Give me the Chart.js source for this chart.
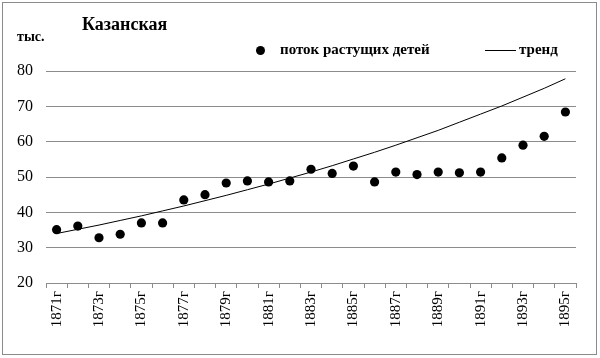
<!DOCTYPE html>
<html>
<head>
<meta charset="utf-8">
<script src="https://cdn.jsdelivr.net/npm/chart.js@4"></script>
<style>
    body { margin: 0; background: #fff; font-family: 'Times New Roman', serif !important; }
    #wrap { position: relative; width: 600px; height: 358px; }
    #frame { position: absolute; left: 2px; top: 2px; width: 593px; height: 351px; border: 1px solid #8a8a8a; pointer-events: none; }
    canvas { position: absolute; left: 0; top: 0; }
    .txt { position: absolute; font-family: 'Times New Roman', serif !important; font-weight: bold; color: #000; white-space: nowrap; line-height: 1; }
    #title { left: 82px; top: 15px; font-size: 18px; }
    #unit { left: 17px; top: 30px; font-size: 14px; }
    #lg1 { left: 280px; top: 42px; font-size: 15px; }
    #lg2 { left: 519px; top: 42px; font-size: 15px; }
    #dot { position: absolute; left: 256px; top: 46px; width: 9px; height: 9px; border-radius: 50%; background: #000; }
    #dash { position: absolute; left: 485px; top: 50px; width: 31px; height: 1px; background: #000; }
</style>
</head>
<body>
<div id="wrap">
    <canvas id="kazanChart" width="600" height="358"></canvas>
    <div class="txt" id="title">Казанская</div>
    <div class="txt" id="unit">тыс.</div>
    <div id="dot"></div>
    <div class="txt" id="lg1">поток растущих детей</div>
    <div id="dash"></div>
    <div class="txt" id="lg2">тренд</div>
    <div id="frame"></div>
</div>
<script>
// Годы наблюдений
const years = ['1871г', '1872г', '1873г', '1874г', '1875г', '1876г', '1877г', '1878г', '1879г',
    '1880г', '1881г', '1882г', '1883г', '1884г', '1885г', '1886г', '1887г', '1888г', '1889г',
    '1890г', '1891г', '1892г', '1893г', '1894г', '1895г'];

// поток растущих детей, тыс.
const childFlow = [35.1, 36.1, 32.8, 33.8, 37.0, 37.0, 43.5, 45.0, 48.3, 48.9, 48.6, 48.9,
    52.2, 51.0, 53.1, 48.6, 51.4, 50.7, 51.4, 51.2, 51.4, 55.4, 59.0, 61.5, 68.4];

// тренд
const trend = [34.0, 35.2, 36.4, 37.7, 39.0, 40.4, 41.8, 43.3, 44.8, 46.4, 48.0, 49.7,
    51.4, 53.2, 55.1, 57.0, 59.0, 61.1, 63.2, 65.5, 67.8, 70.1, 72.6, 75.1, 77.8];

const yTicks = [20, 30, 40, 50, 60, 70, 80];

const fontFamily = "'Times New Roman', serif";
Chart.defaults.font.family = fontFamily;

const kazanCtx = document.getElementById('kazanChart');
if (kazanCtx) {
    new Chart(kazanCtx, {
        type: 'line',
        data: {
            labels: years,
            datasets: [
                {
                    label: 'тренд',
                    data: trend,
                    borderColor: '#000',
                    borderWidth: 1,
                    pointRadius: 0,
                    tension: 0,
                    fill: false
                },
                {
                    label: 'поток растущих детей',
                    data: childFlow,
                    showLine: false,
                    pointRadius: 4.6,
                    pointBorderWidth: 0,
                    pointBackgroundColor: '#000',
                    pointBorderColor: '#000'
                }
            ]
        },
        options: {
            responsive: false,
            animation: false,
            layout: {
                padding: { top: 71, right: 24, left: 0, bottom: 0 }
            },
            plugins: {
                legend: { display: false },
                title: { display: false },
                tooltip: { enabled: false }
            },
            scales: {
                y: {
                    min: 20,
                    max: 80,
                    afterFit: function(scale) { scale.width = 46; },
                    afterBuildTicks: function(scale) {
                        scale.ticks = yTicks.map(v => ({ value: v }));
                    },
                    border: { display: false },
                    grid: {
                        color: '#8c8c8c',
                        drawTicks: false
                    },
                    ticks: {
                        padding: 13,
                        color: '#000',
                        font: { family: fontFamily, size: 16 }
                    }
                },
                x: {
                    offset: true,
                    afterFit: function(scale) { scale.height = 75; },
                    border: { display: true, color: '#8c8c8c' },
                    grid: {
                        offset: true,
                        drawOnChartArea: false,
                        drawTicks: true,
                        tickLength: 5,
                        color: '#8c8c8c'
                    },
                    ticks: {
                        autoSkip: false,
                        maxRotation: 90,
                        minRotation: 90,
                        padding: 3,
                        color: '#000',
                        font: { family: fontFamily, size: 15 },
                        callback: function(value, index) {
                            return index % 2 === 0 ? years[index] : '';
                        }
                    }
                }
            }
        }
    });
}
</script>
</body>
</html>
